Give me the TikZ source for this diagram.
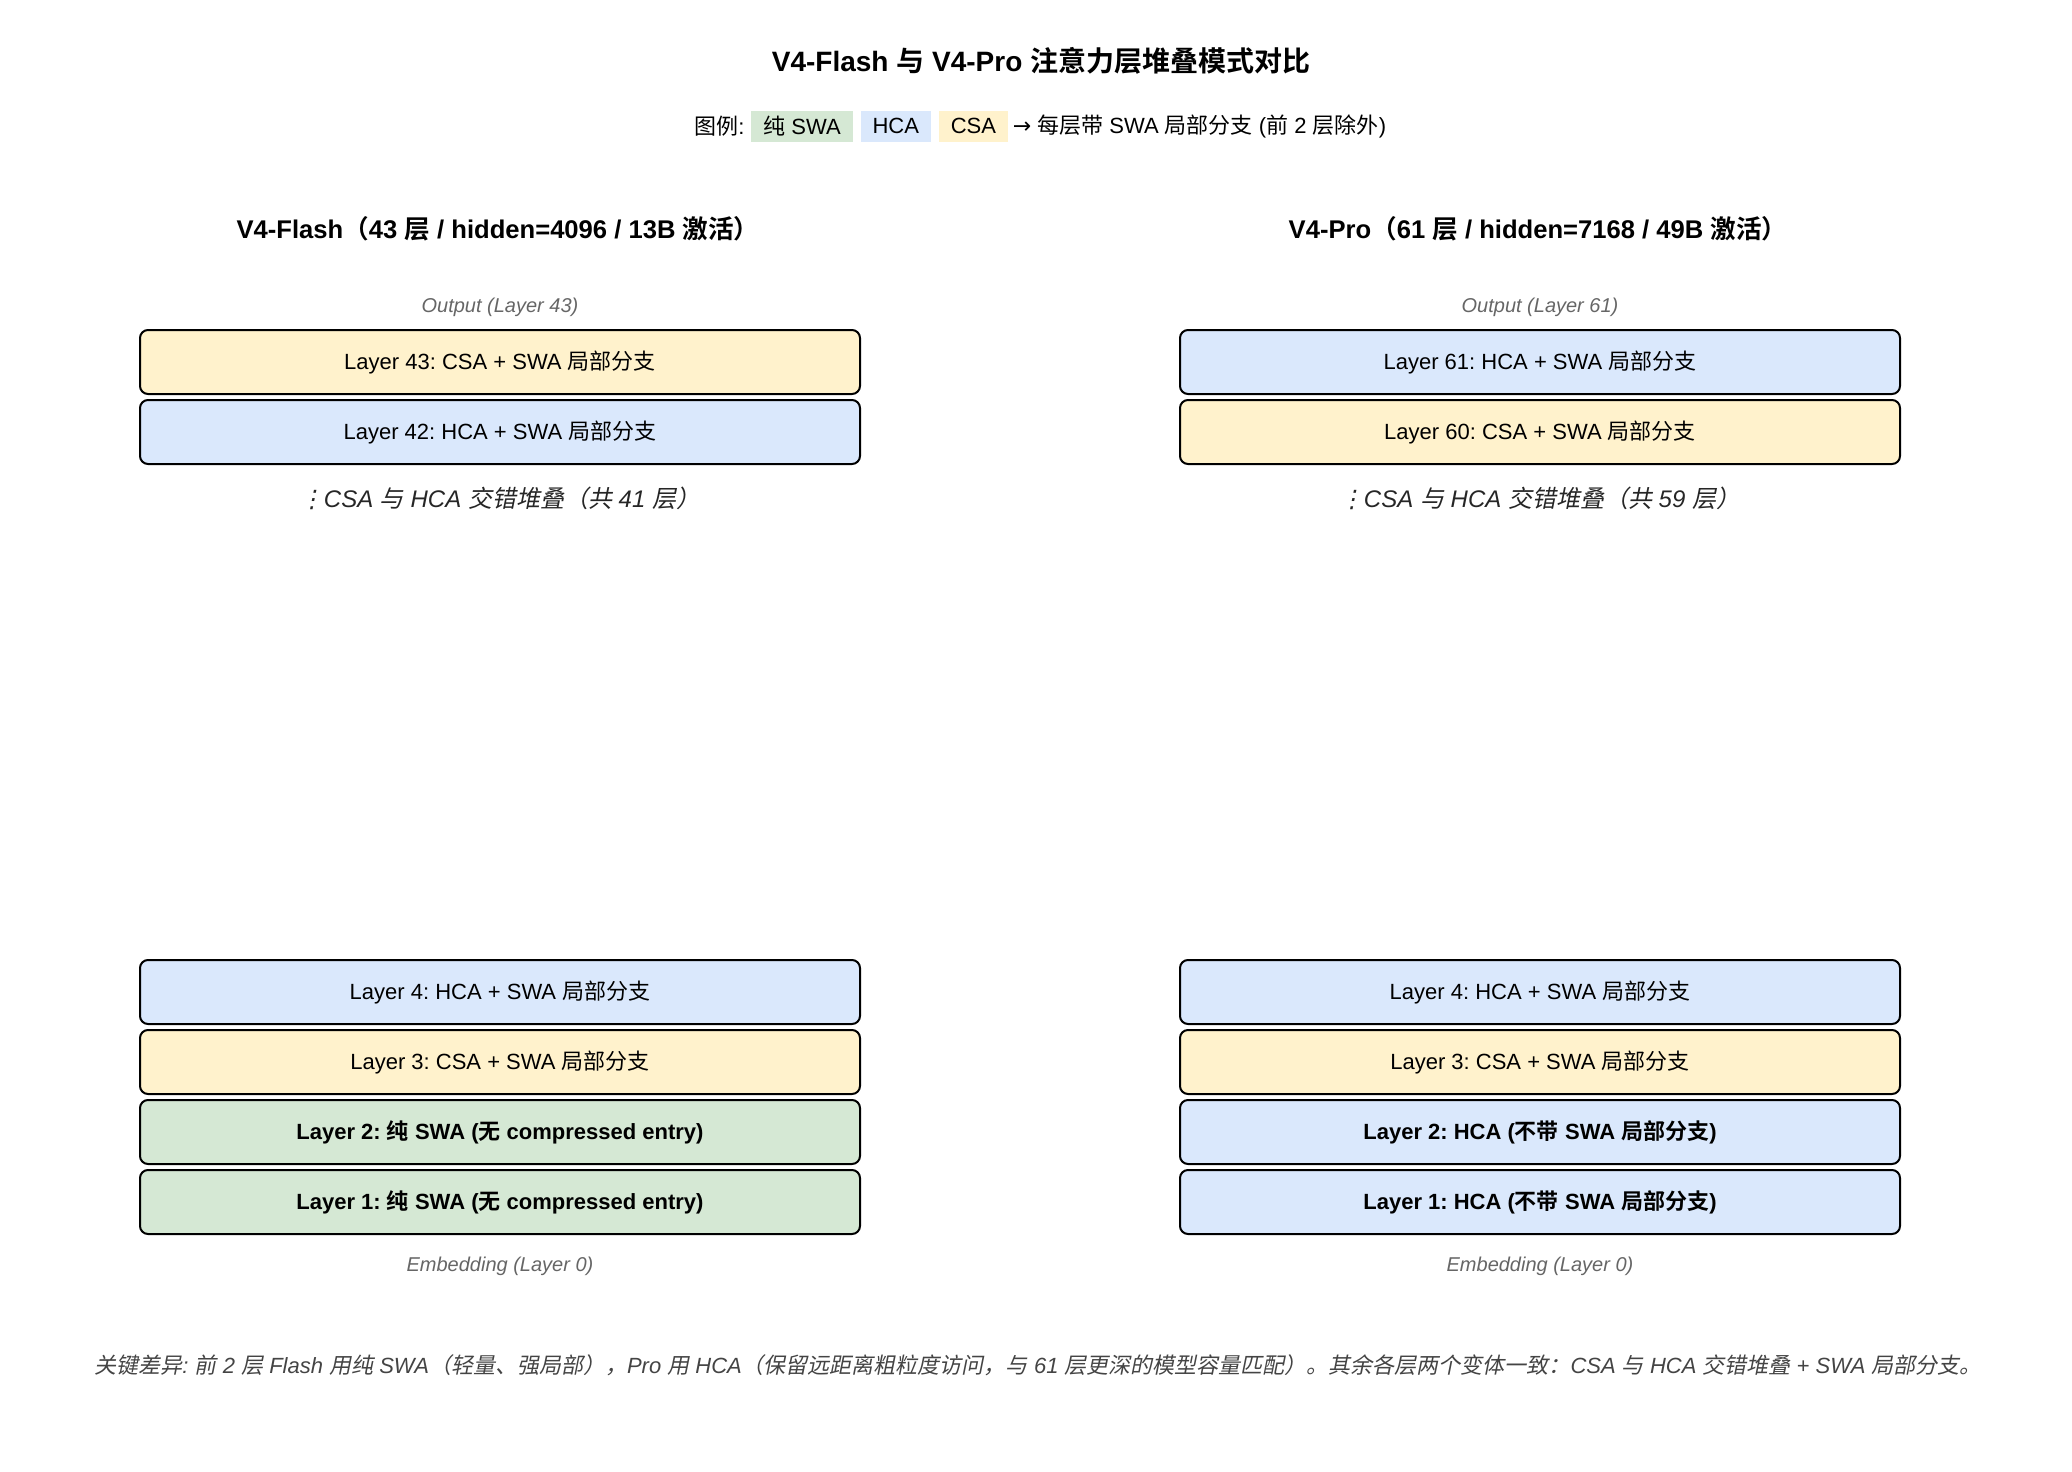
\documentclass[tikz,border=0pt]{standalone}
\usepackage{fontspec}
\setmainfont{Liberation Sans}
\newfontfamily\cjk{Noto Sans CJK SC}[BoldFont={* Bold},ItalicFont={*},ItalicFeatures={FakeSlant=0.2},BoldItalicFont={* Bold},BoldItalicFeatures={FakeSlant=0.2}]
\newfontfamily\dejavu{DejaVu Sans}[FakeSlant=0.2]
\newfontfamily\dejavuup{DejaVu Sans}
\newcommand\zh[1]{{\cjk #1}}
\usetikzlibrary{positioning}
\definecolor{swaG}{HTML}{D5E8D4}
\definecolor{hcaB}{HTML}{DAE8FC}
\definecolor{csaY}{HTML}{FFF2CC}
\definecolor{noteGray}{HTML}{666666}
\definecolor{footGray}{HTML}{444444}
\frenchspacing

\begin{document}
\begin{tikzpicture}[x=0.5pt,y=-0.5pt,
  layer/.style={draw,line width=1pt,rounded corners=4pt,minimum width=360pt,minimum height=32pt,inner sep=0pt,font=\fontsize{11pt}{13pt}\selectfont},
  csa/.style={fill=csaY},
  hca/.style={fill=hcaB},
  swa/.style={fill=swaG},
  lgd/.style={inner xsep=6pt,inner ysep=0pt,minimum height=15.5pt,font=\fontsize{11pt}{13pt}\selectfont},
  colhead/.style={font=\bfseries\fontsize{12.8pt}{15pt}\selectfont},
  endlabel/.style={text=noteGray,font=\itshape\fontsize{10pt}{12pt}\selectfont},
  gap/.style={text=black!85,font=\itshape\fontsize{12pt}{14pt}\selectfont}]
\useasboundingbox (0,0) rectangle (2072,1472);

% title and legend
\node[font=\bfseries\fontsize{14pt}{17pt}\selectfont] (title) at (1041,61) {V4-Flash \zh{与} V4-Pro \zh{注意力层堆叠模式对比}};
\node[lgd,swa] (lgswa) at (802,126) {\zh{纯} SWA};
\node[lgd,hca,right=3.5pt of lgswa] (lghca) {HCA};
\node[lgd,csa,right=3.5pt of lghca] (lgcsa) {CSA};
\node[lgd,left=0pt of lgswa,inner xsep=3pt] (lgkey) {\zh{图例}:};
\node[lgd,right=0pt of lgcsa,inner xsep=2pt] (lgnote) {{\dejavuup →} \zh{每层带} SWA \zh{局部分支} (\zh{前} 2 \zh{层除外})};

% V4-Flash
\node[colhead] (flhead) at (498,229) {V4-Flash\zh{（}43 \zh{层} / hidden=4096 / 13B \zh{激活）}};
\node[endlabel] (flout) at (500,307) {Output (Layer 43)};
\node[layer,csa] (fl43) at (500,362) {Layer 43: CSA + SWA \zh{局部分支}};
\node[layer,hca] (fl42) at (500,432) {Layer 42: HCA + SWA \zh{局部分支}};
\node[gap] (flgap) at (500,498) {{\dejavu ⋮}CSA \zh{与} HCA \zh{交错堆叠（共} 41 \zh{层）}};
\node[layer,hca] (fl4) at (500,992) {Layer 4: HCA + SWA \zh{局部分支}};
\node[layer,csa] (fl3) at (500,1062) {Layer 3: CSA + SWA \zh{局部分支}};
\node[layer,swa,font=\bfseries\fontsize{11pt}{13pt}\selectfont] (fl2) at (500,1132) {Layer 2: \zh{纯} SWA (\zh{无} compressed entry)};
\node[layer,swa,font=\bfseries\fontsize{11pt}{13pt}\selectfont] (fl1) at (500,1202) {Layer 1: \zh{纯} SWA (\zh{无} compressed entry)};
\node[endlabel] (flemb) at (500,1266) {Embedding (Layer 0)};

% V4-Pro
\node[colhead] (prhead) at (1538,229) {V4-Pro\zh{（}61 \zh{层} / hidden=7168 / 49B \zh{激活）}};
\node[endlabel] (prout) at (1540,307) {Output (Layer 61)};
\node[layer,hca] (pr61) at (1540,362) {Layer 61: HCA + SWA \zh{局部分支}};
\node[layer,csa] (pr60) at (1540,432) {Layer 60: CSA + SWA \zh{局部分支}};
\node[gap] (prgap) at (1540,498) {{\dejavu ⋮}CSA \zh{与} HCA \zh{交错堆叠（共} 59 \zh{层）}};
\node[layer,hca] (pr4) at (1540,992) {Layer 4: HCA + SWA \zh{局部分支}};
\node[layer,csa] (pr3) at (1540,1062) {Layer 3: CSA + SWA \zh{局部分支}};
\node[layer,hca,font=\bfseries\fontsize{11pt}{13pt}\selectfont] (pr2) at (1540,1132) {Layer 2: HCA (\zh{不带} SWA \zh{局部分支})};
\node[layer,hca,font=\bfseries\fontsize{11pt}{13pt}\selectfont] (pr1) at (1540,1202) {Layer 1: HCA (\zh{不带} SWA \zh{局部分支})};
\node[endlabel] (premb) at (1540,1266) {Embedding (Layer 0)};

% footer
\node[text=footGray,font=\itshape\fontsize{11pt}{13pt}\selectfont] (foot) at (1038,1365) {\zh{关键差异}: \zh{前} 2 \zh{层} Flash \zh{用纯} SWA\zh{（轻量、强局部），}Pro \zh{用} HCA\zh{（保留远距离粗粒度访问，与} 61 \zh{层更深的模型容量匹配）。其余各层两个变体一致：}CSA \zh{与} HCA \zh{交错堆叠} + SWA \zh{局部分支。}};
\end{tikzpicture}
\end{document}
